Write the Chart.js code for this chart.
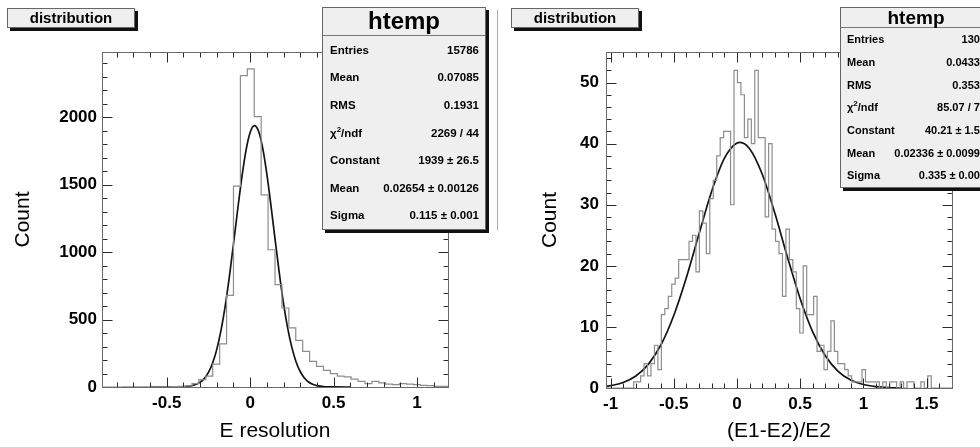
<!DOCTYPE html>
<html><head><meta charset="utf-8">
<script src="https://cdn.jsdelivr.net/npm/chart.js@4.4.1/dist/chart.umd.min.js"></script>
<style>
html,body{margin:0;padding:0;background:#fff;}
body{width:980px;height:447px;position:relative;overflow:hidden;font-family:"Liberation Sans",Arial,Helvetica,sans-serif;color:#000;}
.panel{position:absolute;top:0;width:490px;height:447px;}
canvas{display:block;}
.titlebox{position:absolute;top:8px;height:20px;width:128px;background:#efefef;border:1px solid #666;box-shadow:3px 3px 0 #111;font-weight:bold;font-size:15px;text-align:center;line-height:18px;box-sizing:border-box;}
.stats{position:absolute;background:#efefef;border:1px solid #666;box-shadow:3px 3px 0 #111;box-sizing:border-box;overflow:hidden;}
.stats .hd{text-align:center;font-weight:bold;border-bottom:1px solid #777;box-sizing:border-box;}
.stats .row{display:flex;justify-content:space-between;align-items:center;font-weight:bold;box-sizing:border-box;white-space:nowrap;}
.stats sup{font-size:8px;line-height:0;}
#statsL{left:322px;top:7px;width:164px;height:223px;}
#statsL .hd{height:28px;font-size:24px;line-height:26px;}
#statsL .row{height:27.6px;font-size:11.5px;padding:0 6px 0 7px;}
#statsR{left:840px;top:7px;width:152px;height:181px;}
#statsR .hd{height:20px;font-size:19px;line-height:19px;}
#statsR .row{height:22.7px;font-size:11px;padding:0 5px 0 6px;}
#sep{position:absolute;left:497px;top:10px;width:1px;height:220px;background:#aaa;}
</style>
</head><body>
<div class="panel" style="left:0"><canvas id="cL" width="490" height="447"></canvas></div>
<div class="panel" style="left:490px"><canvas id="cR" width="490" height="447"></canvas></div>
<div id="sep"></div>
<div class="titlebox" style="left:7px">distribution</div>
<div class="titlebox" style="left:511px">distribution</div>
<div class="stats" id="statsL"></div>
<div class="stats" id="statsR"></div>
<script>
// ---------- data ----------
// Left: E resolution, 50 bins
const eresRange = [-0.888, 1.186];
const eresCounts = [0,0,0,1,1,1,1,1,1,2,3,4,8,25,55,80,170,320,680,1490,
  2310,2360,2005,1425,1018,759,586,438,346,265,190,153,124,99,80,75,59,42,25,42,
  30,22,17,25,22,17,12,10,5,5];
const eresFitX = [-0.6,-0.5,-0.45,-0.4,-0.35,-0.3,-0.275,-0.25,-0.225,-0.2,-0.175,-0.15,-0.125,-0.1,-0.075,-0.05,-0.025,0,0.025,0.05,0.075,0.1,0.125,0.15,0.175,0.2,0.225,0.25,0.275,0.3,0.325,0.35,0.375,0.4,0.45,0.5,0.6];
const eresFitY = [0,0,0.4,2,9,35,62,108,178,279,418,597,814,1059,1313,1554,1754,1888,1939,1899,1774,1581,1344,1089,843,621,437,294,188,115,67,37,20,10,2,0.4,0];
const eresXTicks = [-0.5, 0, 0.5, 1];
const eresYTicks = [0, 500, 1000, 1500, 2000];
const eresYMax = 2485;

// Right: (E1-E2)/E2, 100 bins
const ratioRange = [-1.036, 1.701];
const ratioCounts = [0,0,0,0,0,0,0,0,1,1,2,4,2,4,7,3,12,13,15,17,
  18,21,21,21,24,25,19,29,27,22,31,34,38,41,42,42,30,52,50,48,
  41,44,40,52,41,41,28,40,26,24,22,15,26,21,19,13,9,20,12,12,
  15,6,7,3,6,11,6,4,4,3,2,1,1,1,3,1,1,1,1,0,
  1,0,1,1,0,1,0,1,1,0,0,1,0,2,0,0,0,0,0,0];
const ratioFitX = [-1.036,-1.0,-0.9,-0.8,-0.7,-0.6,-0.5,-0.4,-0.3,-0.2,-0.1,0,0.025,0.1,0.2,0.3,0.4,0.5,0.6,0.7,0.8,0.9,1.0,1.1,1.2,1.3];
const ratioFitY = [0.28,0.38,0.90,1.96,3.91,7.12,11.87,18.09,25.24,32.2,37.58,40.11,40.21,39.17,34.99,28.59,21.38,14.61,9.14,5.23,2.74,1.31,0.57,0.23,0.08,0.03];
const ratioXTicks = [-1, -0.5, 0, 0.5, 1, 1.5];
const ratioYTicks = [0, 10, 20, 30, 40, 50];
const ratioYMax = 55;

const statsLeft = [["Entries","15786"],["Mean","0.07085"],["RMS","0.1931"],["&chi;<sup>2</sup>/ndf","2269 / 44"],["Constant","1939 &plusmn; 26.5"],["Mean","0.02654 &plusmn; 0.00126"],["Sigma","0.115 &plusmn; 0.001"]];
const statsRight = [["Entries","1303"],["Mean","0.04338"],["RMS","0.3537"],["&chi;<sup>2</sup>/ndf","85.07 / 74"],["Constant","40.21 &plusmn; 1.50"],["Mean","0.02336 &plusmn; 0.00996"],["Sigma","0.335 &plusmn; 0.009"]];

// ---------- stats boxes ----------
function fillStats(id, rows){
  let h = '<div class="hd">htemp</div>';
  rows.forEach(r => { h += '<div class="row"><span>'+r[0]+'</span><span>'+r[1]+'</span></div>'; });
  document.getElementById(id).innerHTML = h;
}
fillStats('statsL', statsLeft);
fillStats('statsR', statsRight);

// ---------- chart helpers ----------
const FONT = "'Liberation Sans', Arial, Helvetica, sans-serif";
function histPoints(counts, range){
  const n = counts.length, w = (range[1]-range[0])/n;
  const pts = counts.map((c,i)=>({x: range[0]+i*w, y: c}));
  pts.push({x: range[1], y: counts[n-1]});
  return pts;
}
function curvePoints(xs, ys){ return xs.map((x,i)=>({x, y: ys[i]})); }

const frameTicks = {
  id: 'frameTicks',
  afterDatasetsDraw(chart, args, o){
    const {ctx, chartArea: a, scales: {x, y}} = chart;
    const L = Math.round(a.left)+0.5, R = Math.round(a.right)+0.5, T = Math.round(a.top)+0.5, B = Math.round(a.bottom)+0.5;
    ctx.save();
    ctx.lineWidth = 1;
    ctx.strokeStyle = '#2a2a2a';
    ctx.beginPath();
    const eps = 1e-9;
    for (let k = Math.ceil(x.min/o.xMinor - eps); k*o.xMinor <= x.max + eps; k++){
      const v = k*o.xMinor;
      const maj = Math.abs(v/o.xMajor - Math.round(v/o.xMajor)) < 1e-6;
      const len = maj ? o.majLen : o.minLen;
      const px = Math.round(x.getPixelForValue(v)) + 0.5;
      ctx.moveTo(px, B); ctx.lineTo(px, B - len);
      ctx.moveTo(px, T); ctx.lineTo(px, T + len);
    }
    for (let k = Math.ceil(y.min/o.yMinor - eps); k*o.yMinor <= y.max + eps; k++){
      const v = k*o.yMinor;
      const maj = Math.abs(v/o.yMajor - Math.round(v/o.yMajor)) < 1e-6;
      const len = maj ? o.majLen : o.minLen;
      const py = Math.round(y.getPixelForValue(v)) + 0.5;
      ctx.moveTo(L, py); ctx.lineTo(L + len, py);
      ctx.moveTo(R, py); ctx.lineTo(R - len, py);
    }
    ctx.stroke();
    ctx.strokeStyle = '#6a6a6a';
    ctx.strokeRect(L, T, R-L, B-T);
    ctx.restore();
  }
};

function build(id, c){
  return new Chart(document.getElementById(id), {
    type: 'line',
    data: { datasets: [
      { data: histPoints(c.counts, c.range), stepped: 'before', borderColor: '#8d8d8d', borderWidth: 1.2, pointRadius: 0, fill: false },
      { data: curvePoints(c.fitX, c.fitY), borderColor: '#141414', borderWidth: 1.7, pointRadius: 0, cubicInterpolationMode: 'monotone', fill: false }
    ]},
    options: {
      responsive: false, animation: false, devicePixelRatio: 1,
      layout: { padding: { top: 52, right: c.padRight, left: 0, bottom: 0 } },
      plugins: { legend: {display: false}, tooltip: {enabled: false},
        frameTicks: { xMinor: c.xMinor, xMajor: c.xMajor, yMinor: c.yMinor, yMajor: c.yMajor, majLen: 10, minLen: 5 } },
      scales: {
        x: { type: 'linear', min: c.range[0], max: c.range[1],
          grid: {display: false, drawTicks: false}, border: {display: false},
          afterBuildTicks: s => { s.ticks = c.xTicks.map(v => ({value: v})); },
          afterFit: s => { s.height = c.xH; },
          ticks: { autoSkip: false, maxRotation: 0, padding: 6, color: '#000', font: {family: FONT, size: 17, weight: 'bold'}, callback: v => String(v) },
          title: { display: true, text: c.xTitle, color: '#000', font: {family: FONT, size: 21}, padding: {top: 0, bottom: 3} } },
        y: { type: 'linear', min: 0, max: c.yMax,
          grid: {display: false, drawTicks: false}, border: {display: false},
          afterBuildTicks: s => { s.ticks = c.yTicks.map(v => ({value: v})); },
          afterFit: s => { s.width = c.yW; },
          ticks: { autoSkip: false, padding: c.yPad, color: '#000', font: {family: FONT, size: 17, weight: 'bold'}, callback: v => String(v) },
          title: { display: true, text: 'Count', color: '#000', font: {family: FONT, size: 21}, padding: {top: c.yTitlePad, bottom: 0} } }
      }
    },
    plugins: [frameTicks]
  });
}

build('cL', { counts: eresCounts, range: eresRange, fitX: eresFitX, fitY: eresFitY, xTicks: eresXTicks, yTicks: eresYTicks, yMax: eresYMax,
  xTitle: 'E resolution', padRight: 42, xH: 60, yW: 102, yPad: 5, yTitlePad: 11, xMinor: 0.1, xMajor: 0.5, yMinor: 100, yMajor: 500 });
build('cR', { counts: ratioCounts, range: ratioRange, fitX: ratioFitX, fitY: ratioFitY, xTicks: ratioXTicks, yTicks: ratioYTicks, yMax: ratioYMax,
  xTitle: '(E1-E2)/E2', padRight: 28, xH: 59, yW: 116, yPad: 7, yTitlePad: 48, xMinor: 0.1, xMajor: 0.5, yMinor: 2, yMajor: 10 });
</script>
</body></html>
